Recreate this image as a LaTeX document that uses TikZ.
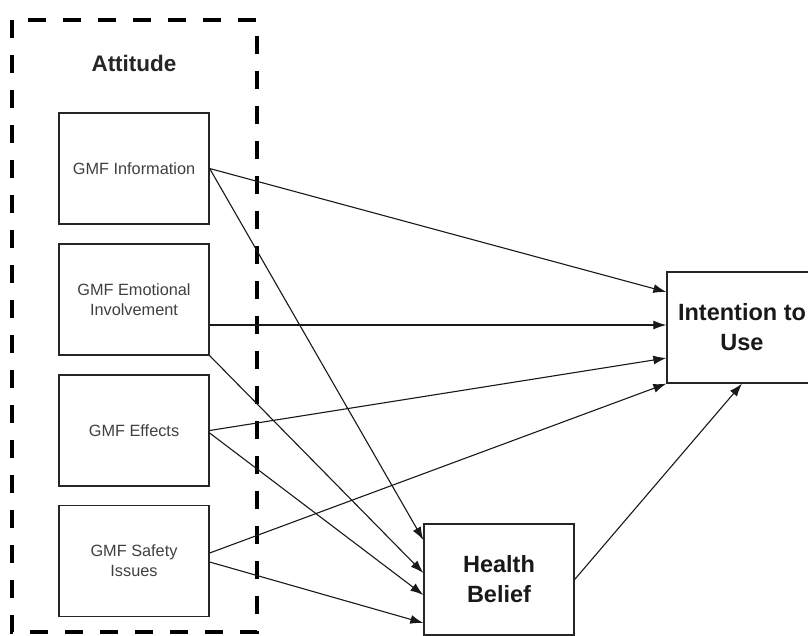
\documentclass[tikz,border=0pt]{standalone}
\usepackage{fontspec}
\setmainfont{Liberation Sans}
\usetikzlibrary{arrows.meta}
\begin{document}
\begin{tikzpicture}[x=1pt,y=-1pt,
  smallbox/.style={draw=black!85,line width=1.3pt,minimum width=150pt,minimum height=111pt,inner sep=0pt,align=center,font=\fontsize{16.3}{20}\selectfont,text=black!75},
  bigbox/.style={draw=black!85,line width=1.3pt,minimum width=150pt,minimum height=111pt,inner sep=0pt,align=center,font=\fontsize{23.5}{30}\selectfont\bfseries,text=black!90},
  conn/.style={line width=1.1pt,draw=black!90,-{Latex[length=13pt,width=9pt]}},
  groupbox/.style={line width=4pt,dash pattern=on 18pt off 17pt}
]
\clip (0,0) rectangle (808,635);
\fill[white] (0,0) rectangle (808,635);
\draw[groupbox] (12,20) rectangle (257,632);
\node[font=\fontsize{22.5}{26}\selectfont\bfseries,text=black!85] (att) at (134,63) {Attitude};
\node[smallbox] (info) at (134,168.5) {GMF Information};
\node[smallbox] (emo) at (134,299.5) {GMF Emotional\\Involvement};
\node[smallbox] (eff) at (134,430.5) {GMF Effects};
\node[smallbox] (saf) at (134,561) {GMF Safety\\Issues};
\node[bigbox] (int) at (742,327.5) {Intention to\\Use};
\node[bigbox] (hb) at (499,579.5) {Health\\Belief};
\draw[conn] (info.east) -- ([yshift=35.5pt]int.west);
\draw[conn] (info.east) -- ([yshift=39.5pt]hb.west);
\draw[conn] ([yshift=-25.5pt]emo.east) -- ([yshift=2.5pt]int.west);
\draw[conn] (emo.south east) -- ([yshift=6.5pt]hb.west);
\draw[conn] (eff.east) -- ([yshift=-30.5pt]int.west);
\draw[conn] ([yshift=-2.5pt]eff.east) -- ([yshift=-15.5pt]hb.west);
\draw[conn] ([yshift=8pt]saf.east) -- (int.south west);
\draw[conn] ([yshift=-1pt]saf.east) -- ([yshift=-43.5pt]hb.west);
\draw[conn] (hb.east) -- (int.south);
\end{tikzpicture}
\end{document}
